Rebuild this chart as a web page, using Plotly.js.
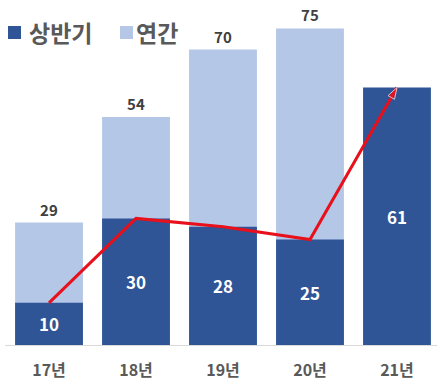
<!DOCTYPE html>
<html>
<head>
<meta charset="utf-8">
<script src="https://cdn.plot.ly/plotly-3.0.1.min.js"></script>
<style>html,body{margin:0;padding:0;background:#fff}#chart{width:437px;height:384px}</style>
</head>
<body>
<div id="chart"></div>
<script>
const categories = ['17년', '18년', '19년', '20년', '21년'];
const annualValues = [29, 54, 70, 75, null];
const halfValues = [10, 30, 28, 25, 61];
const annualName = '연간';
const halfName = '상반기';

const FONT = '"Noto Sans CJK KR", "Noto Sans", sans-serif';
const DARK = '#2f5597';
const LIGHT = '#b4c7e7';
const LEGEND_GRAY = '#595959';

const traces = [
  {
    type: 'bar', name: annualName, x: categories, y: annualValues,
    marker: {color: LIGHT}, showlegend: false,
    text: annualValues.map(v => v == null ? '' : String(v)),
    textposition: 'outside', cliponaxis: false, textangle: 0,
    textfont: {family: FONT, size: 15, color: '#404040', weight: 700},
    hoverinfo: 'skip'
  },
  {
    type: 'bar', name: halfName, x: categories, y: halfValues,
    marker: {color: DARK}, showlegend: false,
    text: halfValues.map(String),
    textposition: 'inside', insidetextanchor: 'middle', textangle: 0,
    textfont: {family: FONT, size: 17, color: '#ffffff', weight: 700},
    hoverinfo: 'skip'
  },
  {
    type: 'scatter', mode: 'lines+markers', x: categories, y: halfValues,
    line: {color: '#e8101a', width: 3},
    marker: {
      symbol: halfValues.map((v, i) => i === halfValues.length - 1 ? 'arrow' : 'circle'),
      size: halfValues.map((v, i) => i === halfValues.length - 1 ? 12 : 0),
      angleref: 'previous', color: '#e8101a'
    },
    showlegend: false, hoverinfo: 'skip', cliponaxis: false
  }
];

// custom legend (squares + labels) placed in paper/pixel space
const legendItems = [
  {name: halfName, color: DARK, sq: 3, tx: 22},
  {name: annualName, color: LIGHT, sq: 115, tx: 129}
];
const shapes = legendItems.map(it => ({
  type: 'rect', xref: 'paper', yref: 'paper',
  xsizemode: 'pixel', ysizemode: 'pixel', xanchor: 0, yanchor: 1,
  x0: it.sq, x1: it.sq + 13, y0: -39, y1: -26,
  fillcolor: it.color, line: {width: 0}
}));
const annotations = legendItems.map(it => ({
  text: it.name, xref: 'paper', yref: 'paper', x: 0, y: 1,
  xanchor: 'left', yanchor: 'middle', xshift: it.tx, yshift: -32,
  showarrow: false,
  font: {family: FONT, size: 23, color: LEGEND_GRAY, weight: 700}
}));

const layout = {
  width: 437, height: 384,
  margin: {l: 5, r: 0, t: 0, b: 39},
  paper_bgcolor: '#ffffff', plot_bgcolor: '#ffffff',
  barmode: 'overlay', bargap: 0.22,
  font: {family: FONT},
  showlegend: false,
  shapes: shapes,
  annotations: annotations,
  xaxis: {
    range: [-0.506, 4.46], showgrid: false, zeroline: false,
    showline: true, linecolor: '#d9d9d9', linewidth: 1,
    ticks: '', ticklabelstandoff: 11,
    tickfont: {family: FONT, size: 16, color: LEGEND_GRAY, weight: 700},
    fixedrange: true
  },
  yaxis: {
    range: [0, 81.75], visible: false, showgrid: false, zeroline: false, fixedrange: true
  }
};

Plotly.newPlot('chart', traces, layout, {displayModeBar: false, staticPlot: true});
</script>
</body>
</html>
